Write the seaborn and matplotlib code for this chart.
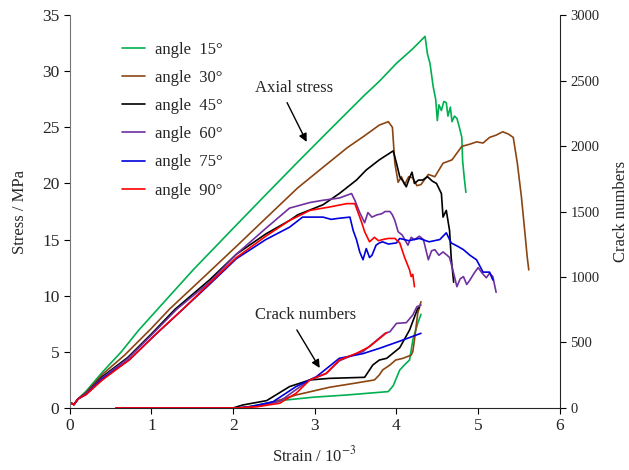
import numpy as np
import pandas as pd
import matplotlib
matplotlib.use("Agg")
import matplotlib.pyplot as plt
import seaborn as sns

# stress-strain curves (strain in 10^-3, stress in MPa)
s15_x = [0, 0.05, 0.1, 0.2, 0.4, 0.63, 0.84, 1.1, 1.51, 2.0, 2.4, 2.79, 3.2, 3.6, 3.79, 4.0, 4.2, 4.35,
         4.38, 4.41, 4.45, 4.48, 4.5, 4.52, 4.55, 4.58, 4.61, 4.63, 4.66, 4.68, 4.71, 4.74, 4.77, 4.8, 4.81, 4.83, 4.85]
s15_y = [0.5, 0.3, 0.8, 1.5, 3.2, 5.0, 6.9, 9.0, 12.3, 16.0, 19.0, 21.9, 24.9, 27.8, 29.1, 30.7, 32.0, 33.1,
         31.5, 30.7, 28.6, 27.5, 25.6, 27.0, 26.5, 27.3, 27.2, 26.0, 26.8, 25.5, 26.0, 25.8, 25.0, 24.1, 22.0, 20.5, 19.2]

s30_x = [0, 0.05, 0.1, 0.2, 0.4, 0.67, 1.0, 1.22, 1.69, 2.04, 2.4, 2.79, 3.06, 3.4, 3.6, 3.79, 3.9, 3.95,
         3.98, 4.02, 4.06, 4.1, 4.15, 4.2, 4.25, 4.3, 4.35, 4.39, 4.47, 4.57, 4.68, 4.8, 4.9, 4.98, 5.06,
         5.14, 5.22, 5.3, 5.37, 5.43, 5.48, 5.53, 5.57, 5.6, 5.62]
s30_y = [0.5, 0.3, 0.8, 1.4, 3.0, 4.7, 7.1, 8.8, 12.0, 14.4, 16.9, 19.6, 21.2, 23.2, 24.2, 25.2, 25.5, 25.0,
         21.8, 20.1, 20.6, 19.9, 20.6, 20.5, 19.8, 19.9, 20.4, 20.8, 20.6, 21.8, 22.1, 23.3, 23.5, 23.7, 23.6,
         24.1, 24.3, 24.6, 24.4, 24.1, 21.8, 18.8, 15.8, 13.5, 12.3]

s45_x = [0, 0.05, 0.1, 0.2, 0.4, 0.71, 1.0, 1.29, 1.71, 2.04, 2.4, 2.69, 2.79, 3.1, 3.3, 3.51, 3.63, 3.79,
         3.96, 4.0, 4.04, 4.08, 4.12, 4.16, 4.19, 4.22, 4.27, 4.32, 4.38, 4.44, 4.49, 4.55, 4.57, 4.61,
         4.65, 4.67, 4.7]
s45_y = [0.5, 0.3, 0.8, 1.3, 2.8, 4.5, 6.6, 8.8, 11.4, 13.7, 15.5, 16.7, 17.2, 18.1, 19.1, 20.3, 21.2, 22.1,
         22.9, 21.8, 20.6, 20.2, 19.7, 20.5, 21.0, 20.0, 20.3, 20.3, 20.6, 20.2, 20.0, 19.1, 17.0, 17.6,
         15.8, 13.4, 11.2]

s60_x = [0, 0.05, 0.1, 0.2, 0.4, 0.71, 1.0, 1.31, 1.71, 2.04, 2.4, 2.69, 2.94, 3.1, 3.3, 3.45, 3.49, 3.55,
         3.61, 3.65, 3.7, 3.76, 3.82, 3.86, 3.92, 3.95, 3.98, 4.02, 4.07, 4.14, 4.18, 4.22, 4.28, 4.33,
         4.39, 4.43, 4.47, 4.52, 4.57, 4.62, 4.65, 4.7, 4.74, 4.78, 4.82, 4.86, 4.9, 4.95, 5.0, 5.05,
         5.1, 5.14, 5.18, 5.22]
s60_y = [0.5, 0.3, 0.8, 1.3, 2.7, 4.4, 6.5, 8.8, 11.2, 13.7, 16.0, 17.8, 18.3, 18.5, 18.7, 19.1, 18.5, 17.4,
         16.5, 17.4, 17.0, 17.2, 17.3, 17.5, 17.5, 17.2, 16.7, 15.7, 15.4, 14.5, 15.2, 15.0, 15.3, 15.0,
         13.2, 14.0, 14.1, 13.6, 13.9, 13.6, 13.4, 12.0, 10.8, 11.5, 11.7, 11.0, 11.4, 12.0, 12.5, 12.0,
         11.6, 12.0, 11.7, 10.3]

s75_x = [0, 0.05, 0.1, 0.2, 0.4, 0.73, 1.0, 1.37, 1.71, 2.04, 2.4, 2.69, 2.85, 3.0, 3.1, 3.2, 3.3, 3.43,
         3.47, 3.51, 3.55, 3.59, 3.63, 3.67, 3.7, 3.75, 3.79, 3.83, 3.9, 4.0, 4.04, 4.15, 4.28, 4.4, 4.53,
         4.61, 4.67, 4.75, 4.82, 4.9, 4.98, 5.06, 5.14, 5.18]
s75_y = [0.5, 0.3, 0.8, 1.2, 2.6, 4.3, 6.2, 8.7, 11.0, 13.3, 15.0, 16.1, 17.0, 17.0, 17.0, 16.8, 16.9, 17.0,
         15.8, 15.0, 13.9, 13.2, 14.2, 13.4, 13.6, 14.5, 14.7, 14.8, 14.6, 14.7, 15.1, 14.9, 15.1, 14.8, 15.0,
         15.6, 14.7, 14.4, 14.1, 13.6, 13.2, 12.1, 12.1, 11.4]

s90_x = [0, 0.05, 0.1, 0.2, 0.4, 0.73, 1.1, 1.37, 1.71, 2.04, 2.4, 2.69, 2.94, 3.18, 3.39, 3.49, 3.53, 3.57,
         3.61, 3.67, 3.73, 3.78, 3.83, 3.9, 3.98, 4.04, 4.1, 4.16, 4.18, 4.2, 4.22]
s90_y = [0.5, 0.3, 0.8, 1.2, 2.5, 4.3, 6.9, 8.7, 11.1, 13.4, 15.3, 16.7, 17.6, 17.9, 18.2, 18.2, 17.4, 16.6,
         15.7, 14.8, 15.2, 14.9, 15.0, 15.1, 15.1, 14.7, 13.4, 12.3, 11.7, 11.9, 10.8]

# crack numbers (right axis)
c15_x = [0.57, 2.1, 2.37, 2.57, 2.98, 3.39, 3.9, 3.96, 4.04, 4.1, 4.16, 4.18, 4.2, 4.26, 4.3]
c15_y = [0, 0, 30, 56, 82, 99, 125, 170, 290, 330, 366, 440, 520, 646, 715]
c30_x = [0.57, 2.1, 2.41, 2.77, 3.18, 3.5, 3.73, 3.79, 3.83, 3.92, 3.99, 4.08, 4.18, 4.2, 4.22, 4.26, 4.3]
c30_y = [0, 0, 30, 99, 158, 190, 214, 252, 290, 328, 366, 379, 404, 430, 519, 722, 811]
c45_x = [0.57, 2.0, 2.12, 2.41, 2.69, 2.94, 3.18, 3.61, 3.71, 3.79, 3.88, 4.04, 4.16, 4.26, 4.28]
c45_y = [0, 0, 23, 56, 163, 214, 226, 234, 328, 366, 379, 460, 595, 760, 765]
c60_x = [0.57, 2.05, 2.3, 2.57, 2.77, 2.94, 3.14, 3.3, 3.51, 3.59, 3.86, 3.92, 4.0, 4.12, 4.2, 4.25, 4.3]
c60_y = [0, 0, 12, 50, 140, 215, 262, 360, 415, 430, 570, 582, 646, 651, 710, 773, 786]
c75_x = [0.57, 2.05, 2.2, 2.49, 2.77, 3.02, 3.3, 3.59, 3.79, 4.04, 4.3]
c75_y = [0, 0, 8, 48, 163, 239, 379, 415, 455, 510, 570]
c90_x = [0.57, 2.05, 2.3, 2.57, 2.77, 2.94, 3.14, 3.3, 3.51, 3.67, 3.88]
c90_y = [0, 0, 10, 36, 112, 214, 265, 366, 417, 468, 575]

labels = ["angle  15°", "angle  30°", "angle  45°", "angle  60°", "angle  75°", "angle  90°"]
colors = ["#00b050", "#8b4513", "#000000", "#7030a0", "#0000dd", "#ff0000"]

stress = [(s15_x, s15_y), (s30_x, s30_y), (s45_x, s45_y), (s60_x, s60_y), (s75_x, s75_y), (s90_x, s90_y)]
cracks = [(c15_x, c15_y), (c30_x, c30_y), (c45_x, c45_y), (c60_x, c60_y), (c75_x, c75_y), (c90_x, c90_y)]

sns.set_style("ticks")
plt.rcParams['font.family'] = ['Liberation Serif', 'DejaVu Serif']
plt.rcParams['mathtext.fontset'] = 'stix'

fig = plt.figure(figsize=(6.29, 4.70), dpi=100)
ax = fig.add_axes([0.111, 0.132, 0.779, 0.836])
ax2 = ax.twinx()

for (x, y), c, lab in zip(stress, colors, labels):
    sns.lineplot(x=x, y=y, ax=ax, color=c, lw=1.2, sort=False, estimator=None, label=lab)
for (x, y), c in zip(cracks, colors):
    sns.lineplot(x=x, y=y, ax=ax2, color=c, lw=1.2, sort=False, estimator=None, legend=False)

ax.set_xlim(0, 6)
ax.set_ylim(0, 35)
ax2.set_ylim(0, 3000)
ax.set_xticks(range(0, 7))
ax.set_yticks(range(0, 36, 5))
ax2.set_yticks(range(0, 3001, 500))

ax.set_xlabel("Strain / 10$^{-3}$", fontsize=12, labelpad=8)
ax.set_ylabel("Stress / MPa", fontsize=12, labelpad=10)
ax2.set_ylabel("Crack numbers", fontsize=12, labelpad=10)

ax.tick_params(direction='out', length=4, labelsize=12.5, color='black')
ax2.tick_params(direction='out', length=4, labelsize=10.5, color='black')

ax.spines['top'].set_visible(False)
ax.spines['right'].set_visible(False)
ax.spines['left'].set_color('#777777')
ax2.spines['top'].set_visible(False)
ax2.spines['left'].set_visible(False)
ax2.spines['bottom'].set_visible(False)

ax.legend(loc='upper left', bbox_to_anchor=(0.075, 0.97), frameon=False, fontsize=12,
          handlelength=1.4, handletextpad=0.6, labelspacing=0.73)

ax.text(2.75, 28.5, "Axial stress", ha='center', va='center', fontsize=12)
ax.annotate("", xy=(2.9, 23.7), xytext=(2.66, 27.2),
            arrowprops=dict(arrowstyle='-|>', color='black', lw=1, shrinkA=0, shrinkB=0,
                            mutation_scale=12))
ax.text(2.89, 8.3, "Crack numbers", ha='center', va='center', fontsize=12)
ax.annotate("", xy=(3.06, 3.56), xytext=(2.78, 6.95),
            arrowprops=dict(arrowstyle='-|>', color='black', lw=1, shrinkA=0, shrinkB=0,
                            mutation_scale=12))

fig.savefig("out.png", dpi=100)
